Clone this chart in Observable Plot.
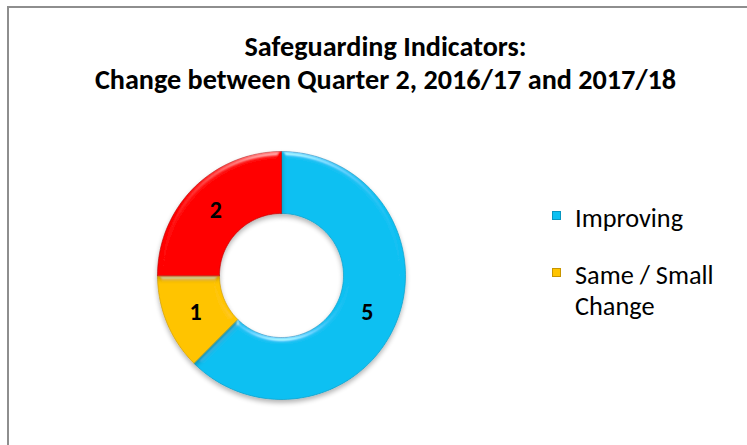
<!DOCTYPE html>
<html>
<head>
<meta charset="utf-8">
<script src="https://cdn.jsdelivr.net/npm/d3@7"></script>
<script src="https://cdn.jsdelivr.net/npm/@observablehq/plot@0.6"></script>
<style>
  html, body { margin: 0; padding: 0; background: #fff; overflow: hidden; }
  #wrap { position: relative; width: 747px; height: 445px; overflow: hidden; font-family: "Carlito", "Lato", "Open Sans", sans-serif; }
  #frame { position: absolute; left: 7px; top: 6px; width: 800px; height: 500px; border: 2px solid #8e8e8e; box-sizing: border-box; }
  .tl { position: absolute; left: 0; width: 771px; text-align: center; font-weight: bold; font-size: 28.2px; line-height: 30px; color: #000; white-space: nowrap; }
  .lg { position: absolute; left: 575px; font-size: 26.3px; line-height: 30px; color: #000; white-space: nowrap; }
  .sw { position: absolute; left: 552px; width: 9px; height: 9px; box-sizing: border-box; }
  #chart { position: absolute; left: 0; top: 0; }
</style>
</head>
<body>
<div id="wrap">
  <div id="frame"></div>
  <div id="chart"></div>
  <div class="tl" style="top:32px">Safeguarding Indicators:</div>
  <div class="tl" style="top:65px">Change between Quarter 2, 2016/17 and 2017/18</div>
  <div id="legend"></div>
</div>
<script>
const categories = ["Improving", "Same / Small Change", "Worsening"];
const values = [5, 1, 2];
const colors = ["#0cc0f2", "#ffc400", "#ff0000"];
const edgeColors = ["#0796c0", "#c79500", "#b30000"];
const legendCategories = ["Improving", "Same / Small Change"];
const legendLines = [["Improving"], ["Same / Small", "Change"]];

const innerRatio = 0.5;
const data = categories.map((c, i) => ({category: c, value: values[i]}));
const arcs = d3.pie().sort(null).value(d => d.value)(data);

// polygon vertices of each donut slice, in unit coordinates (y up)
const pts = [];
for (const a of arcs) {
  const n = Math.max(8, Math.round((a.endAngle - a.startAngle) / (Math.PI / 90)));
  for (let k = 0; k <= n; k++) {
    const t = a.startAngle + (a.endAngle - a.startAngle) * k / n;
    pts.push({category: a.data.category, x: Math.sin(t), y: Math.cos(t)});
  }
  for (let k = n; k >= 0; k--) {
    const t = a.startAngle + (a.endAngle - a.startAngle) * k / n;
    pts.push({category: a.data.category, x: innerRatio * Math.sin(t), y: innerRatio * Math.cos(t)});
  }
}
const labels = arcs.map(a => {
  const m = (a.startAngle + a.endAngle) / 2, r = (1 + innerRatio) / 2;
  return {category: a.data.category, value: a.data.value, x: r * Math.sin(m), y: r * Math.cos(m)};
});

const plot = Plot.plot({
  width: 747,
  height: 445,
  margin: 0,
  axis: null,
  x: {type: "linear", domain: [-1, 1], range: [157, 405]},
  y: {type: "linear", domain: [-1, 1], range: [399, 151]},
  color: {domain: categories, range: colors},
  marks: [
    Plot.line(pts, {x: "x", y: "y", z: "category", fill: "category", stroke: "category", strokeWidth: 0.6, curve: "linear-closed", className: "slices"}),
    Plot.text(labels, {x: "x", y: "y", dy: 1, text: d => String(d.value), fontSize: 24, fontWeight: "bold", fill: "#000", fontFamily: "Carlito, Lato, 'Open Sans', sans-serif"})
  ]
});

// soft bevel + shadow, applied to each slice separately
const svg = d3.select(plot);
const defs = svg.insert("defs", ":first-child");
const f = defs.append("filter").attr("id", "bevel").attr("x", "-20%").attr("y", "-20%").attr("width", "140%").attr("height", "140%");
f.append("feGaussianBlur").attr("in", "SourceAlpha").attr("stdDeviation", 2.5).attr("result", "blur");
const spec = f.append("feSpecularLighting").attr("in", "blur").attr("surfaceScale", 3).attr("specularConstant", 0.8).attr("specularExponent", 35).attr("lighting-color", "#ffffff").attr("result", "spec");
spec.append("feDistantLight").attr("azimuth", 270).attr("elevation", 30);
f.append("feComposite").attr("in", "spec").attr("in2", "SourceAlpha").attr("operator", "in").attr("result", "specIn");
f.append("feComposite").attr("in", "SourceGraphic").attr("in2", "specIn").attr("operator", "arithmetic").attr("k1", 0).attr("k2", 1).attr("k3", 0.45).attr("k4", 0).attr("result", "lit");
f.append("feGaussianBlur").attr("in", "SourceAlpha").attr("stdDeviation", 2.5).attr("result", "sblur");
f.append("feOffset").attr("in", "sblur").attr("dy", 3).attr("result", "soff");
f.append("feComponentTransfer").attr("in", "soff").attr("result", "shadow").append("feFuncA").attr("type", "linear").attr("slope", 0.3);
const mg = f.append("feMerge");
mg.append("feMergeNode").attr("in", "shadow");
mg.append("feMergeNode").attr("in", "lit");

svg.selectAll(".slices path").each(function() {
  const p = d3.select(this);
  const i = colors.indexOf(p.attr("fill"));
  if (i >= 0) p.attr("stroke", edgeColors[i]);
  p.attr("filter", "url(#bevel)");
});
document.getElementById("chart").appendChild(plot);

const legend = document.getElementById("legend");
const itemTops = [203, 260];
legendCategories.forEach((c, j) => {
  const i = categories.indexOf(c);
  const sw = document.createElement("div");
  sw.className = "sw";
  sw.style.top = (itemTops[j] + 8) + "px";
  sw.style.background = colors[i];
  sw.style.border = "1px solid " + edgeColors[i];
  legend.appendChild(sw);
  legendLines[j].forEach((line, k) => {
    const tx = document.createElement("div");
    tx.className = "lg";
    tx.style.top = (itemTops[j] + k * 31) + "px";
    tx.textContent = line;
    legend.appendChild(tx);
  });
});
</script>
</body>
</html>
